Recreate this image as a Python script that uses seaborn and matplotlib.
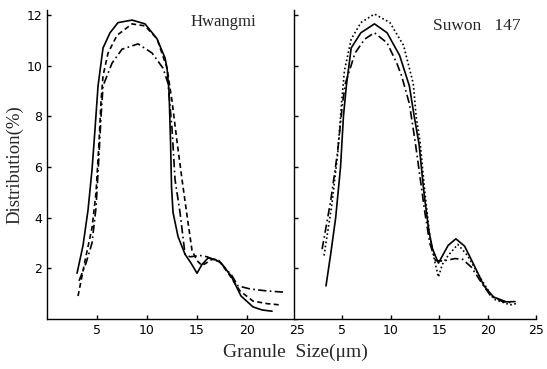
import pandas as pd
import matplotlib.pyplot as plt
import seaborn as sns

# Hwangmi (left panel)
hw_solid_x = [3.0, 3.6, 4.1, 4.5, 4.8, 5.1, 5.6, 6.3, 7.1, 8.5, 9.8, 11.0, 11.8, 12.0, 12.2, 12.35,
              12.45, 12.6, 13.1, 13.8, 14.4, 15.0, 15.5, 16.1, 16.8, 17.4, 18.4, 19.4, 20.6, 21.5, 22.5]
hw_solid_y = [1.8, 2.9, 4.3, 5.9, 7.5, 9.2, 10.7, 11.3, 11.7, 11.8, 11.65, 11.06, 10.3, 9.9, 9.0, 7.0,
              5.2, 4.2, 3.25, 2.55, 2.2, 1.8, 2.15, 2.4, 2.35, 2.2, 1.7, 0.9, 0.47, 0.35, 0.3]
hw_dash_x = [3.1, 3.8, 4.5, 4.9, 5.2, 5.4, 5.6, 6.1, 7.0, 8.5, 9.8, 11.0, 12.0, 12.5, 13.0, 13.5,
             14.1, 14.5, 15.0, 15.5, 16.5, 17.2, 18.3, 19.3, 20.6, 22.0, 23.3]
hw_dash_y = [0.9, 2.3, 3.6, 5.0, 7.0, 8.6, 9.6, 10.5, 11.2, 11.65, 11.57, 11.06, 9.9, 8.6, 7.0, 5.5,
             3.8, 2.7, 2.3, 2.1, 2.35, 2.3, 1.7, 1.1, 0.7, 0.6, 0.55]
hw_dd_x = [3.2, 3.9, 4.5, 4.9, 5.2, 5.4, 5.6, 6.5, 7.5, 9.1, 10.5, 11.6, 12.1, 12.5, 12.8, 13.3,
           13.8, 14.3, 15.3, 16.0, 17.3, 18.5, 19.1, 20.3, 22.0, 23.8]
hw_dd_y = [1.5, 2.2, 3.0, 4.4, 6.5, 8.0, 9.2, 10.1, 10.65, 10.86, 10.5, 9.9, 9.3, 7.5, 5.5, 4.2,
           2.55, 2.45, 2.5, 2.45, 2.24, 1.7, 1.3, 1.18, 1.1, 1.05]

# Suwon 147 (right panel)
sw_solid_x = [3.3, 3.8, 4.3, 4.8, 5.1, 5.4, 5.9, 6.9, 8.3, 9.6, 10.9, 11.9, 12.4, 12.9, 13.4, 13.9,
              14.3, 14.9, 15.9, 16.7, 17.6, 18.6, 19.6, 20.6, 21.9, 22.8]
sw_solid_y = [1.3, 2.6, 4.0, 6.0, 8.0, 9.2, 10.7, 11.3, 11.65, 11.3, 10.4, 9.2, 8.0, 6.9, 5.0, 3.5,
              2.75, 2.2, 2.9, 3.16, 2.87, 2.1, 1.3, 0.86, 0.67, 0.68]
sw_dot_x = [3.1, 3.9, 4.5, 4.9, 5.2, 5.9, 6.9, 8.3, 9.9, 11.3, 12.3, 12.6, 13.0, 13.5, 14.0, 14.5,
            14.9, 15.3, 15.9, 16.9, 17.9, 19.3, 20.6, 22.3, 22.9]
sw_dot_y = [2.5, 4.5, 6.5, 8.5, 9.8, 11.05, 11.7, 12.04, 11.7, 10.8, 9.3, 8.0, 7.0, 5.0, 3.3, 2.3,
            1.65, 2.15, 2.5, 2.94, 2.5, 1.57, 0.78, 0.55, 0.6]
sw_dd_x = [2.9, 3.8, 4.5, 5.0, 5.3, 6.3, 7.3, 8.3, 9.6, 10.6, 11.1, 11.9, 12.5, 13.0, 13.5, 14.0,
           14.6, 15.4, 16.6, 17.4, 18.3, 19.3, 20.3, 21.6, 22.6]
sw_dd_y = [2.75, 4.7, 6.6, 8.5, 9.3, 10.5, 11.05, 11.3, 10.9, 10.1, 9.6, 8.5, 7.0, 5.6, 4.2, 3.0,
           2.3, 2.28, 2.38, 2.35, 2.04, 1.45, 0.9, 0.67, 0.63]

x_ticks = [5, 10, 15, 20, 25]
y_ticks = [2, 4, 6, 8, 10, 12]

sns.set_style("ticks")
plt.rcParams['font.family'] = ['DejaVu Sans']

fig = plt.figure(figsize=(5.47, 3.69), dpi=100)
ax1 = fig.add_axes([0.086, 0.136, 0.457, 0.837])
ax2 = fig.add_axes([0.5375, 0.136, 0.443, 0.837])

solid = '-'
dashed = (0, (3, 2))
dashdot = (0, (5, 2, 1, 2))
dotted = (0, (1, 1.5))

panels = [
    (ax1, [(hw_solid_x, hw_solid_y, solid), (hw_dash_x, hw_dash_y, dashed), (hw_dd_x, hw_dd_y, dashdot)]),
    (ax2, [(sw_solid_x, sw_solid_y, solid), (sw_dot_x, sw_dot_y, dotted), (sw_dd_x, sw_dd_y, dashdot)]),
]
for ax, lines in panels:
    for xs, ys, ls in lines:
        sns.lineplot(x=xs, y=ys, ax=ax, color='black', linewidth=1.2, linestyle=ls,
                     sort=False, estimator=None)
    ax.set_xlim(0, 25)
    ax.set_ylim(0, 12.2)
    ax.set_xticks(x_ticks)
    ax.set_yticks(y_ticks)
    ax.tick_params(direction='in', length=3, width=1, labelsize=9, colors='black')
    for side in ['top', 'right']:
        ax.spines[side].set_visible(False)
    for side in ['left', 'bottom']:
        ax.spines[side].set_color('black')
        ax.spines[side].set_linewidth(1.0)

ax2.tick_params(labelleft=False)
ax1.set_ylabel('Distribution(%)', fontsize=13.5, family='Liberation Serif', labelpad=2)
ax1.text(14.3, 11.73, 'Hwangmi', fontsize=12, family='Liberation Serif', va='center')
ax2.text(14.3, 11.57, 'Suwon   147', fontsize=12.5, family='Liberation Serif', va='center')
fig.text(0.541, 0.046, 'Granule  Size(\u03bcm)', fontsize=14, family='Liberation Serif',
         ha='center', va='center')

fig.savefig('out.png', dpi=100)
